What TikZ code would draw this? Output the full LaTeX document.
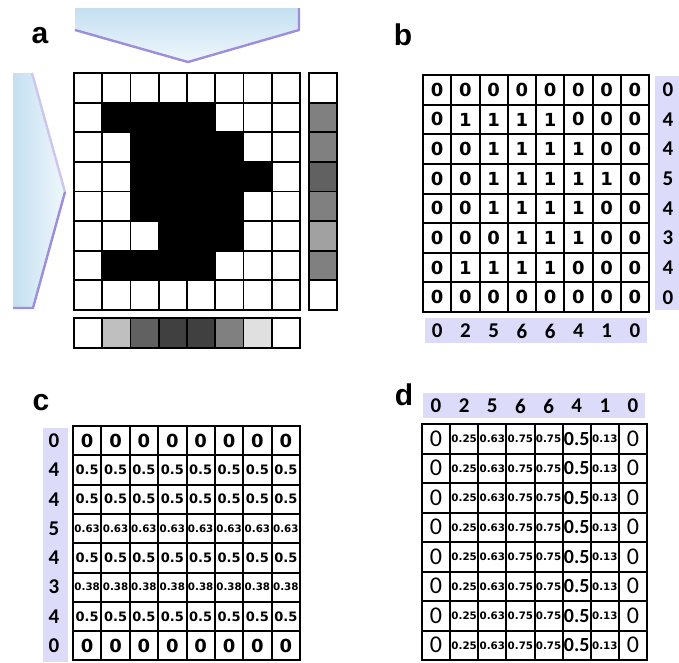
\documentclass[tikz,border=0pt]{standalone}
\usepackage{fontspec}
\setmainfont{Carlito}
\newfontfamily\dvsans{DejaVu Sans}
\newfontfamily\labfont{Liberation Sans}
\definecolor{lav}{RGB}{220,220,250}
\definecolor{chevtop}{RGB}{196,223,241}
\definecolor{chevlight}{RGB}{240,247,252}
\definecolor{purp}{RGB}{156,142,220}
\definecolor{purplight}{RGB}{205,198,238}
\colorlet{ac0}{white}
\colorlet{ac1}{black}
\tikzset{
  cellbase/.style={draw=black, line width=2pt, inner sep=0pt, outer sep=0pt},
  acell/.style={cellbase, line width=1.8pt, minimum width=28.25pt, minimum height=29.625pt},
  bcell/.style={cellbase, minimum width=28.25pt, minimum height=29.625pt, font=\dvsans\bfseries\fontsize{18}{18}\selectfont},
  ccell/.style={cellbase, minimum width=28.375pt, minimum height=29.3pt},
  dcell/.style={cellbase, minimum width=28.125pt, minimum height=29.5pt},
  tbig/.style={font=\dvsans\bfseries\fontsize{18}{18}\selectfont},
  tmid/.style={font=\dvsans\bfseries\fontsize{13}{13}\selectfont},
  tsml/.style={font=\dvsans\bfseries\fontsize{10.3}{10.3}\selectfont},
  tdzero/.style={font=\fontsize{24}{24}\selectfont},
  tdmid/.style={font=\bfseries\fontsize{20}{20}\selectfont},
  sumtxt/.style={font=\bfseries\fontsize{21}{21}\selectfont, inner sep=0pt},
  lavbox/.style={fill=lav, draw=none, inner sep=0pt, outer sep=0pt},
  panellabel/.style={font=\labfont\bfseries\fontsize{30}{30}\selectfont, anchor=base, inner sep=0pt},
  chevline/.style={draw=purp, line width=2.4pt, line join=round},
}
\begin{document}
\begin{tikzpicture}[x=1pt,y=-1pt]
\useasboundingbox (0,0) rectangle (679,662);

% ---------- panel labels
\node[panellabel] (la) at (40,43) {a};
\node[panellabel] (lb) at (403,45) {b};
\node[panellabel] (lc) at (41,410) {c};
\node[panellabel] (ld) at (404,405) {d};

% ---------- chevrons (panel a)
\shade[top color=chevtop, bottom color=chevlight]
  (75,8) -- (299,8) -- (299,30) -- (188,62) -- (75,30) -- cycle;
\draw[chevline] (75,30) -- (188,62) -- (299,30) -- (299,8);
\shade[left color=chevtop, right color=chevlight]
  (13,73) -- (32,73) -- (65,192) -- (33,308) -- (13,308) -- cycle;
\draw[draw=purplight, line width=2.4pt] (32,73) -- (65,192);
\draw[chevline] (65,192) -- (33,308) -- (13,308);

% ---------- panel a grid
\foreach \r/\row in {0/{0,0,0,0,0,0,0,0},1/{0,1,1,1,1,0,0,0},2/{0,0,1,1,1,1,0,0},3/{0,0,1,1,1,1,1,0},4/{0,0,1,1,1,1,0,0},5/{0,0,0,1,1,1,0,0},6/{0,1,1,1,1,0,0,0},7/{0,0,0,0,0,0,0,0}}{
  \foreach \v [count=\c from 0] in \row {
    \node[acell, fill=ac\v] (a-\r-\c) at ({74+28.25*(\c+0.5)},{73+29.625*(\r+0.5)}) {};
  }
}
\foreach \n [count=\r from 0] in {0,4,4,5,4,3,4,0}{
  \pgfmathtruncatemacro\p{\n*12.5}
  \node[acell, minimum width=28pt, fill=black!\p!white] (ar-\r) at (323,{73+29.625*(\r+0.5)}) {};
}
\foreach \n [count=\c from 0] in {0,2,5,6,6,4,1,0}{
  \pgfmathtruncatemacro\p{\n*12.5}
  \node[acell, minimum height=30pt, fill=black!\p!white] (ab-\c) at ({74+28.25*(\c+0.5)},333) {};
}

% ---------- panel b
\node[lavbox, minimum width=24pt, minimum height=234pt] (brl) at (667,193) {};
\node[lavbox, minimum width=222pt, minimum height=25pt] (bbl) at (536,330.5) {};
\foreach \r/\row in {0/{0,0,0,0,0,0,0,0},1/{0,1,1,1,1,0,0,0},2/{0,0,1,1,1,1,0,0},3/{0,0,1,1,1,1,1,0},4/{0,0,1,1,1,1,0,0},5/{0,0,0,1,1,1,0,0},6/{0,1,1,1,1,0,0,0},7/{0,0,0,0,0,0,0,0}}{
  \foreach \v [count=\c from 0] in \row {
    \node[bcell] (b-\r-\c) at ({423+28.25*(\c+0.5)},{75+29.625*(\r+0.5)}) {\v};
  }
}
\foreach \n [count=\r from 0] in {0,4,4,5,4,3,4,0}{
  \node[sumtxt] (bs-\r) at (668,{75+29.625*(\r+0.5)}) {\n};
}
\foreach \n [count=\c from 0] in {0,2,5,6,6,4,1,0}{
  \node[sumtxt] (bt-\c) at ({423+28.25*(\c+0.5)},331) {\n};
}

% ---------- panel c
\node[lavbox, minimum width=25pt, minimum height=234pt] (cll) at (55.5,545) {};
\foreach \n/\t/\f [count=\r from 0] in {0/0/tbig,4/0.5/tmid,4/0.5/tmid,5/0.63/tsml,4/0.5/tmid,3/0.38/tsml,4/0.5/tmid,0/0/tbig}{
  \node[sumtxt] (cs-\r) at (54,{426+29.3*(\r+0.5)}) {\n};
  \foreach \c in {0,...,7}{
    \node[ccell, \f] (c-\r-\c) at ({73+28.375*(\c+0.5)},{426+29.3*(\r+0.5)}) {\t};
  }
}

% ---------- panel d
\node[lavbox, minimum width=222pt, minimum height=25pt] (dtl) at (534,405.5) {};
\foreach \n/\t/\f [count=\c from 0] in {0/0/tdzero,2/0.25/tsml,5/0.63/tsml,6/0.75/tsml,6/0.75/tsml,4/0.5/tdmid,1/0.13/tsml,0/0/tdzero}{
  \node[sumtxt] (ds-\c) at ({422+28.125*(\c+0.5)},406) {\n};
  \foreach \r in {0,...,7}{
    \node[dcell, \f] (d-\r-\c) at ({422+28.125*(\c+0.5)},{424+29.5*(\r+0.5)}) {\t};
  }
}
\end{tikzpicture}
\end{document}
